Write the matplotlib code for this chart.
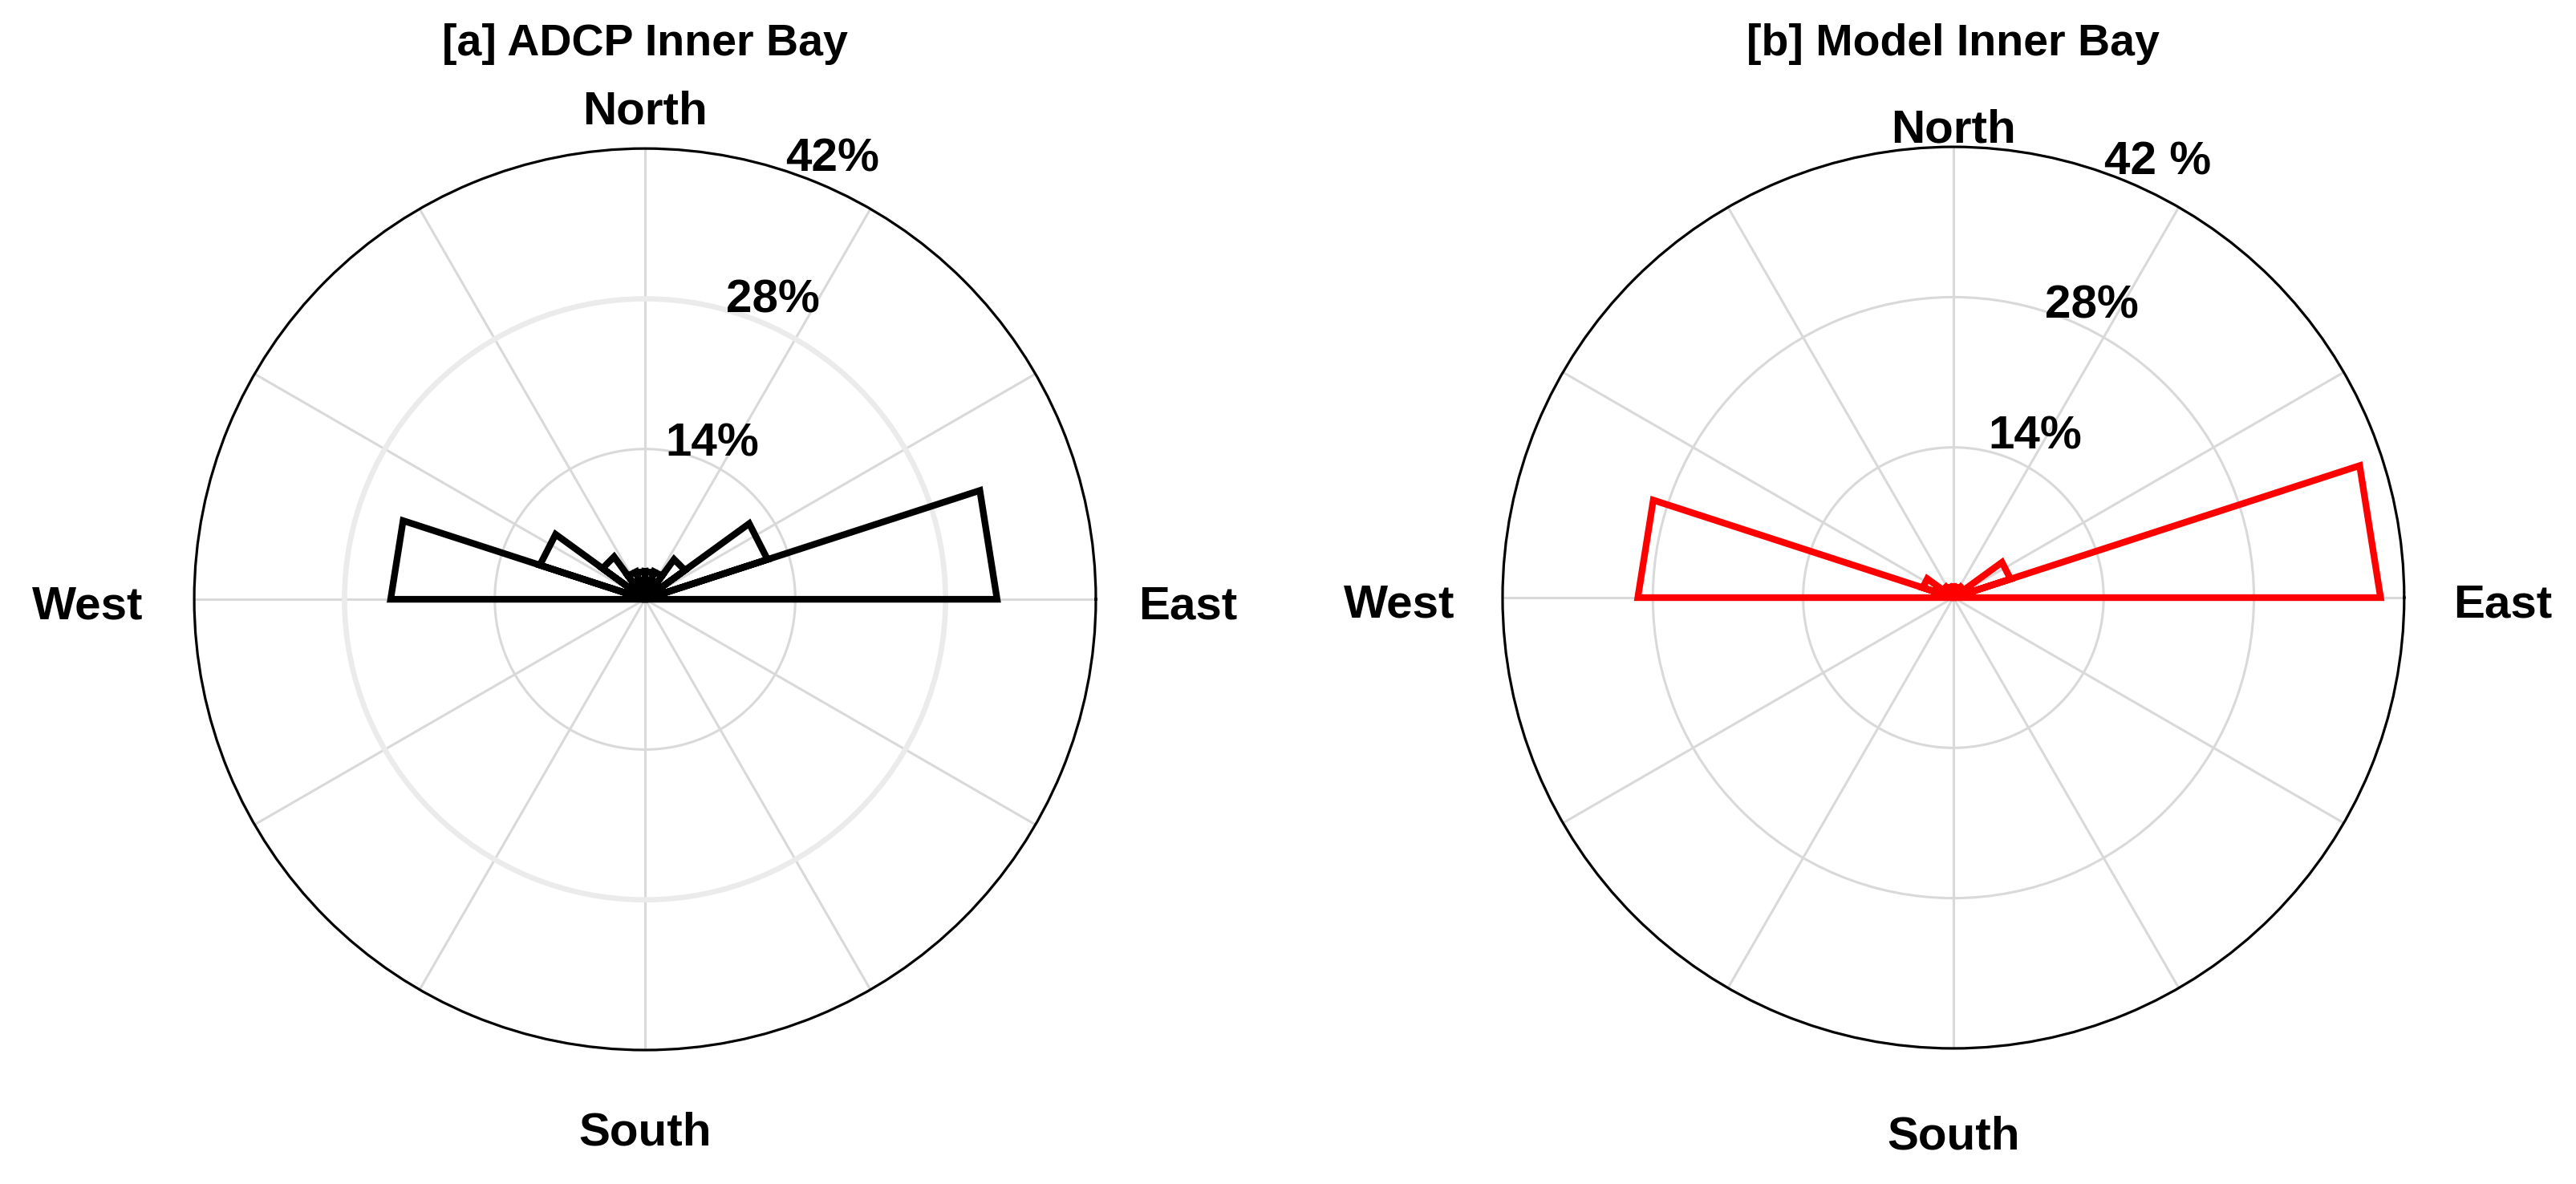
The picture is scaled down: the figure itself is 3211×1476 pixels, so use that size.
import numpy as np
import matplotlib
matplotlib.use('Agg')
import matplotlib.pyplot as plt
from matplotlib.transforms import offset_copy

# rose bins (18 deg, math convention: 0 = East, counter-clockwise)
bin_edges_deg = np.arange(0, 361, 18)

# percentage of samples per direction bin
adcp_pct = [32.8, 12.0, 4.6, 2.7, 2.6, 2.6, 2.7, 4.9, 10.3, 23.7,
            0, 0, 0, 0, 0, 0, 0, 0, 0, 0]
model_pct = [39.8, 5.6, 1.2, 1.0, 1.0, 1.0, 1.0, 1.2, 3.0, 29.4,
             0, 0, 0, 0, 0, 0, 0, 0, 0, 0]

r_ticks = [14, 28, 42]
r_labels_a = ['14%', '28%', '42%']
r_labels_b = ['14%', '28%', '42 %']
compass = ['East', 'North', 'West', 'South']
titles = ['[a] ADCP Inner Bay', '[b] Model Inner Bay']

FONT = ['Liberation Sans', 'DejaVu Sans']


def rose_outline(values):
    th, r = [], []
    for i, v in enumerate(values):
        if v <= 0:
            continue
        a0 = np.deg2rad(bin_edges_deg[i])
        a1 = np.deg2rad(bin_edges_deg[i + 1])
        th += [0, a0, a1, 0]
        r += [0, v, v, 0]
    return th, r


def draw_panel(ax, values, color, title, r_labels, lab_pos, comp_r, title_r, thick28=False):
    ax.set_ylim(0, r_ticks[-1])
    ax.set_thetagrids(np.arange(0, 360, 30), labels=[])
    ax.set_rgrids(r_ticks[:-1], labels=[])
    ax.tick_params(length=0)
    ax.grid(True, color='#d9d9d9', linewidth=2.2)
    if thick28:
        ax.yaxis.get_gridlines()[1].set(linewidth=4.8, color='#ebebeb')
    ax.spines['polar'].set(color='black', linewidth=2.3)

    th, r = rose_outline(values)
    ax.plot(th, r, color=color, linewidth=6, solid_joinstyle='miter', zorder=5, clip_on=False)

    # nudge text down a little so the caps sit where the reference has them
    trans = offset_copy(ax.transData, fig=ax.figure, y=-9, units='dots')
    kw = dict(family=FONT, weight='bold', fontsize=42, ha='center', va='center',
              clip_on=False, transform=trans)
    for txt, (ang, rr) in zip(r_labels, lab_pos):
        ax.text(np.deg2rad(ang), rr, txt, **kw)
    for txt, ang, rr in zip(compass, [0, 90, 180, 270], comp_r):
        ax.text(np.deg2rad(ang), rr, txt, **kw)
    ax.text(np.pi / 2, title_r, title, family=FONT, weight='bold', fontsize=40,
            ha='center', va='center', clip_on=False, transform=trans)


fig = plt.figure(figsize=(32.11, 14.76), dpi=100)
ax_a = fig.add_axes([0.0754, 0.1131, 0.3500, 0.7615], projection='polar')
ax_b = fig.add_axes([0.5833, 0.1145, 0.3500, 0.7615], projection='polar')

draw_panel(ax_a, adcp_pct, 'black', titles[0], r_labels_a,
           [(67.5, 16.4), (67.4, 30.9), (67.25, 45.2)],
           [50.6, 46.1, 51.9, 49.1], 52.4, thick28=True)
draw_panel(ax_b, model_pct, '#ff0000', titles[1], r_labels_b,
           [(64.1, 17.4), (65.2, 30.7), (65.2, 45.4)],
           [51.2, 44.2, 51.6, 49.6], 52.25)

fig.savefig('out.png', dpi=100, facecolor='white')
